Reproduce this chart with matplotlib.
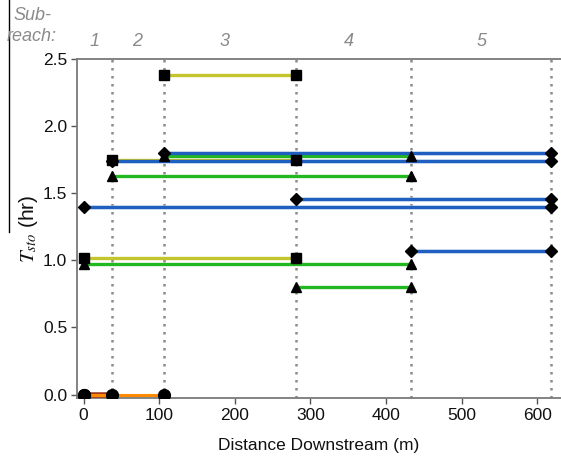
import matplotlib
matplotlib.use("Agg")
import matplotlib.pyplot as plt
from matplotlib.lines import Line2D

plt.rcParams['font.family'] = ['Liberation Sans', 'DejaVu Sans']
plt.rcParams['mathtext.fontset'] = 'stix'

# sub-reach boundaries (m)
boundaries = [38, 106, 281, 433, 619]
subreach_labels = ['1', '2', '3', '4', '5']
subreach_label_x = [15, 71, 186, 351, 526]

# segments: (start, end, value)
yellow_start = [106, 38, 0]
yellow_end = [281, 281, 281]
yellow_val = [2.38, 1.75, 1.02]

green_start = [106, 38, 0, 281]
green_end = [433, 433, 433, 433]
green_val = [1.78, 1.63, 0.97, 0.80]

blue_start = [106, 38, 281, 0, 433]
blue_end = [619, 619, 619, 619, 619]
blue_val = [1.80, 1.74, 1.46, 1.40, 1.07]

darkred_start = [0]
darkred_end = [38]
darkred_val = [0.0]

orange_start = [0]
orange_end = [106]
orange_val = [0.0]

xticks = [0, 100, 200, 300, 400, 500, 600]
yticks = [0.0, 0.5, 1.0, 1.5, 2.0, 2.5]

W, H = 561, 463
fig = plt.figure(figsize=(W / 100, H / 100), dpi=100)
ax = fig.add_axes([77 / W, (H - 398) / H, (W - 77) / W, (398 - 59) / H])

for b in boundaries:
    ax.axvline(b, color='#8a8a8a', linestyle=(0, (1, 2.2)), linewidth=1.8, zorder=1)


def draw(starts, ends, vals, color, marker, lw=2.4, ms=6.5, edge=True, z=3):
    for s, e, v in zip(starts, ends, vals):
        if edge:
            ax.plot([s, e], [v, v], color='#cfe0f5',
                    linewidth=lw + 1.2, alpha=0.5, solid_capstyle='butt', zorder=z - 0.5)
        ax.plot([s, e], [v, v], color=color, linewidth=lw, solid_capstyle='butt', zorder=z)
        ax.plot([s, e], [v, v], linestyle='none', marker=marker, color='black',
                markersize=ms, zorder=5)


draw(darkred_start, darkred_end, darkred_val, '#9c3a1c', 'o', lw=4.0, ms=8.5, edge=False, z=3)
draw(orange_start, orange_end, orange_val, '#ff8a00', 'o', lw=2.2, ms=8.5, edge=False, z=3.5)
draw(yellow_start, yellow_end, yellow_val, '#c4c42c', 's', lw=2.4, ms=7, edge=False)
draw(green_start, green_end, green_val, '#22b822', '^', lw=2.4, ms=7, edge=False)
draw(blue_start, blue_end, blue_val, '#1f5fc0', 'D', lw=2.4, ms=6.5, edge=True)

ax.set_xlim(-8.6, 631.6)
ax.set_ylim(-0.026, 2.5)
ax.set_xticks(xticks)
ax.set_yticks(yticks)
ax.set_yticklabels([f'{t:.1f}' for t in yticks])
ax.tick_params(axis='both', direction='out', length=4, width=1, color='#555555',
               labelsize=12.5, labelcolor='#111111', pad=3)

for side in ['left', 'bottom', 'top']:
    ax.spines[side].set_color('#7a7a7a')
    ax.spines[side].set_linewidth(1.3)
ax.spines['right'].set_visible(False)

ax.set_xlabel('Distance Downstream (m)', fontsize=12.5, color='#111111', labelpad=11)
ax.set_ylabel(r'$T_{sto}$ (hr)', fontsize=15, color='#111111', labelpad=2)

# sub-reach annotations
for lab, xp in zip(subreach_labels, subreach_label_x):
    ax.text(xp, 2.5 + 0.13, lab, ha='center', va='center', fontsize=13,
            style='italic', color='#8a8a8a', transform=ax.transData, clip_on=False)
fig.text(32 / W, 1 - 26 / H, 'Sub-\nreach:', ha='center', va='center', fontsize=13,
         style='italic', color='#8a8a8a', linespacing=1.25)

# panel border artifact on the left
fig.add_artist(Line2D([8.5 / W, 8.5 / W], [1.0, 1 - 232 / H], color='black',
                      linewidth=1.0, transform=fig.transFigure))

fig.savefig('out.png', dpi=100)
